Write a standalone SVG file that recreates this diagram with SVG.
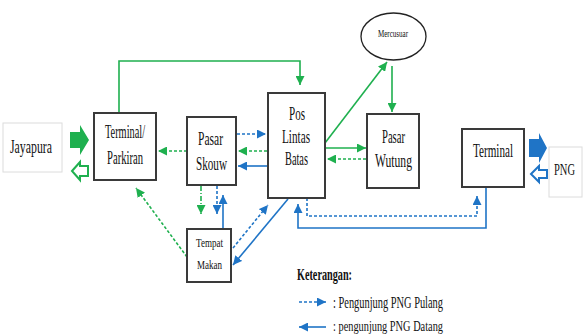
<svg xmlns="http://www.w3.org/2000/svg" width="583" height="334" viewBox="0 0 583 334">
<style>
.box{fill:#fff;stroke:#3a3a3a;stroke-width:2}
.faint{fill:#fff;stroke:#dcdcdc;stroke-width:1}
.t{font-family:"Liberation Serif","Times New Roman",serif;fill:#111}
.g{fill:none;stroke:#1fb04f;stroke-width:1.6}
.b{fill:none;stroke:#1f74c6;stroke-width:1.6}
.d{stroke-dasharray:3 2}
.dd{stroke-dasharray:5 2 1 2}
</style>
<defs>
<marker id="ag" viewBox="0 0 10 10" refX="10" refY="5" markerWidth="9" markerHeight="9" markerUnits="userSpaceOnUse" orient="auto"><path d="M0,0 L10,5 L0,10 z" fill="#1fb04f"/></marker>
<marker id="ab" viewBox="0 0 10 10" refX="10" refY="5" markerWidth="9" markerHeight="9" markerUnits="userSpaceOnUse" orient="auto"><path d="M0,0 L10,5 L0,10 z" fill="#1f74c6"/></marker>
</defs>

<g id="connectors">
<path class="g" d="M119,113 V61 H300 V85" marker-end="url(#ag)"/>
<path class="b d" d="M237,134 H266" marker-end="url(#ab)"/>
<path class="g d" d="M267,151 H238" marker-end="url(#ag)"/>
<path class="b" d="M267,166 H238" marker-end="url(#ab)"/>
<path class="g d" d="M187,151 H158" marker-end="url(#ag)"/>
<path class="g" d="M325,148 H366" marker-end="url(#ag)"/>
<path class="g d" d="M366,159 H327" marker-end="url(#ag)"/>
<path class="g" d="M325,143 L387,62" marker-end="url(#ag)"/>
<path class="g" d="M392,66 V112" marker-end="url(#ag)"/>
<path class="g dd" d="M201,186 V214" marker-end="url(#ag)"/>
<path class="b d" d="M217,186 V214" marker-end="url(#ab)"/>
<path class="b" d="M223,229 V195" marker-end="url(#ab)"/>
<path class="g d" d="M187,257 L136,188" marker-end="url(#ag)"/>
<path class="b d" d="M233,248 L268,205" marker-end="url(#ab)"/>
<path class="b" d="M288,199 L233,265" marker-end="url(#ab)"/>
<path class="b d" d="M307,198 V216 H477 V196" marker-end="url(#ab)"/>
<path class="b" d="M486,188 V228 H298 V204" marker-end="url(#ab)"/>
</g>

<g id="jayapura">
<rect class="faint" x="3" y="123" width="59" height="49"/>
<text class="t" x="10" y="153" font-size="18" textLength="42" lengthAdjust="spacingAndGlyphs">Jayapura</text>
</g>
<g id="jayapura-arrows">
<path d="M70,132 H80 V125 L89,140 L80,155 V148 H70 z" fill="#1fb04f"/>
<path d="M72,171 L80,162 V166 H88 V176 H80 V180 z" fill="#fff" stroke="#1fb04f" stroke-width="2"/>
</g>

<g id="terminal-parkiran">
<rect class="box" x="94" y="113" width="62" height="67"/>
<text class="t" x="105" y="138" font-size="18" textLength="40" lengthAdjust="spacingAndGlyphs">Terminal/</text>
<text class="t" x="107" y="164" font-size="18" textLength="36" lengthAdjust="spacingAndGlyphs">Parkiran</text>
</g>

<g id="pasar-skouw">
<rect class="box" x="187" y="117" width="49" height="68"/>
<text class="t" x="198" y="145" font-size="18" textLength="25" lengthAdjust="spacingAndGlyphs">Pasar</text>
<text class="t" x="196" y="170" font-size="18" textLength="31" lengthAdjust="spacingAndGlyphs">Skouw</text>
</g>

<g id="pos-lintas-batas">
<rect class="box" x="268" y="93" width="57" height="105"/>
<text class="t" x="289" y="120" font-size="18" textLength="16" lengthAdjust="spacingAndGlyphs">Pos</text>
<text class="t" x="282" y="143" font-size="18" textLength="28" lengthAdjust="spacingAndGlyphs">Lintas</text>
<text class="t" x="285" y="165" font-size="18" textLength="23" lengthAdjust="spacingAndGlyphs">Batas</text>
</g>

<g id="mercusuar">
<ellipse cx="393.5" cy="36.5" rx="32.5" ry="23.5" fill="#fff" stroke="#222" stroke-width="1.3"/>
<text class="t" x="378" y="37" font-size="11" textLength="30" lengthAdjust="spacingAndGlyphs">Mercusuar</text>
</g>

<g id="pasar-wutung">
<rect class="box" x="367" y="114" width="52" height="74"/>
<text class="t" x="382" y="143" font-size="18" textLength="23" lengthAdjust="spacingAndGlyphs">Pasar</text>
<text class="t" x="375" y="167" font-size="18" textLength="37" lengthAdjust="spacingAndGlyphs">Wutung</text>
</g>

<g id="terminal">
<rect class="box" x="462" y="129" width="62" height="58"/>
<text class="t" x="473" y="157" font-size="18" textLength="40" lengthAdjust="spacingAndGlyphs">Terminal</text>
</g>

<g id="png-arrows">
<path d="M529,139 H539 V133 L547,148 L539,163 V157 H529 z" fill="#1f74c6"/>
<path d="M531,174 L539,166 V170 H547 V178 H539 V182 z" fill="#fff" stroke="#1f74c6" stroke-width="2"/>
</g>

<g id="png">
<rect class="faint" x="549" y="147" width="33" height="50"/>
<text class="t" x="554" y="175" font-size="16" textLength="21" lengthAdjust="spacingAndGlyphs">PNG</text>
</g>

<g id="tempat-makan">
<rect class="box" x="187" y="229" width="44" height="53"/>
<text class="t" x="196" y="247" font-size="12" textLength="27" lengthAdjust="spacingAndGlyphs">Tempat</text>
<text class="t" x="197" y="269" font-size="12" textLength="25" lengthAdjust="spacingAndGlyphs">Makan</text>
</g>

<g id="legend">
<text class="t" x="297" y="280" font-size="16" font-weight="bold" textLength="55" lengthAdjust="spacingAndGlyphs">Keterangan:</text>
<path class="b d" d="M299,302 H326" marker-end="url(#ab)"/>
<text class="t" x="333" y="308" font-size="17" textLength="110" lengthAdjust="spacingAndGlyphs">: Pengunjung PNG Pulang</text>
<path class="b" d="M326,327 H299" marker-end="url(#ab)"/>
<text class="t" x="333" y="331" font-size="15" textLength="110" lengthAdjust="spacingAndGlyphs">: pengunjung PNG Datang</text>
</g>
</svg>
